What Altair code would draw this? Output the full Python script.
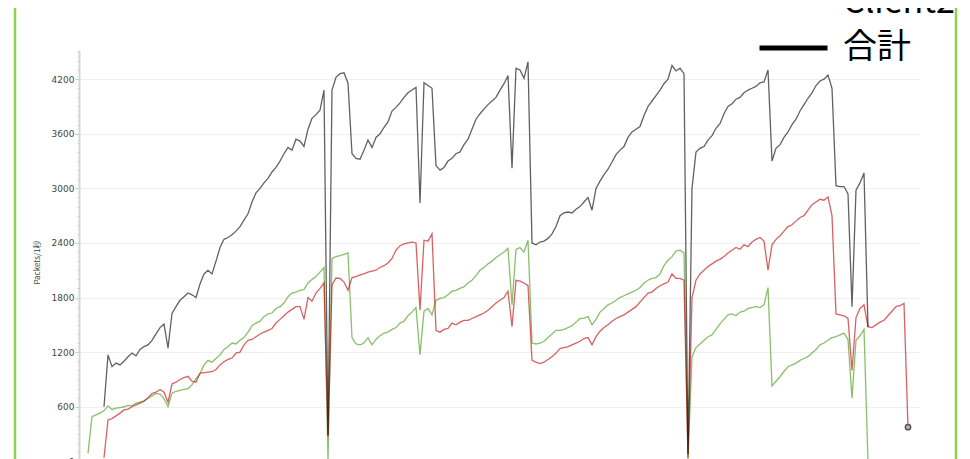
import altair as alt
import pandas as pd

# sample index (one sample per 1/26 of a grid interval)
client1 = [
    90, 490, 510, 530, 555, 610, 570, 585, 590, 600,
    615, 610, 640, 650, 665, 690, 720, 745, 740, 690,
    600, 750, 770, 780, 790, 800, 840, 910, 960, 1060,
    1110, 1090, 1130, 1170, 1230, 1260, 1300, 1290, 1330, 1360,
    1420, 1490, 1520, 1540, 1590, 1620, 1630, 1680, 1700, 1740,
    1810, 1850, 1860, 1880, 1890, 1960, 2000, 2030, 2080, 2130,
    20, 2230, 2250, 2260, 2275, 2290, 1360, 1290, 1280, 1300,
    1360, 1280, 1340, 1380, 1410, 1420, 1450, 1470, 1520, 1540,
    1600, 1640, 1690, 1170, 1650, 1680, 1610, 1770, 1790, 1800,
    1830, 1870, 1880, 1900, 1920, 1960, 1990, 2040, 2100, 2130,
    2170, 2200, 2240, 2270, 2300, 2340, 1720, 2330, 2350, 2300,
    2430, 1300, 1290, 1300, 1320, 1360, 1400, 1440, 1440, 1450,
    1470, 1490, 1530, 1570, 1575, 1590, 1500, 1560, 1640, 1680,
    1720, 1740, 1770, 1800, 1820, 1840, 1860, 1880, 1910, 1960,
    1990, 2010, 2020, 2060, 2150, 2210, 2250, 2310, 2320, 2290,
    30, 1150, 1250, 1290, 1330, 1370, 1390, 1450, 1510, 1560,
    1610, 1620, 1600, 1640, 1650, 1680, 1690, 1700, 1690, 1720,
    1910, 830, 880, 930, 990, 1040, 1060, 1080, 1110, 1130,
    1150, 1190, 1230, 1280, 1300, 1330, 1360, 1370, 1390, 1410,
    1340, 695, 1330, 1380, 1450, 0,
    None, None, None, None, None, None, None, None, None, None,
]

client2 = [
    None, None, None, None, 40, 455, 470, 500, 530, 565,
    575, 600, 620, 640, 660, 700, 745, 760, 790, 760,
    650, 850, 870, 900, 920, 935, 880, 870, 970, 975,
    980, 985, 1010, 1060, 1095, 1120, 1135, 1190, 1200, 1280,
    1330, 1340, 1370, 1400, 1420, 1440, 1460, 1520, 1560, 1600,
    1640, 1670, 1700, 1700, 1560, 1800, 1760, 1850, 1900, 1960,
    270, 1940, 2015, 2010, 1970, 1880, 2020, 2030, 2050, 2060,
    2080, 2090, 2100, 2130, 2150, 2180, 2230, 2320, 2370, 2390,
    2400, 2410, 2400, 1660, 2430, 2420, 2500, 1440, 1420, 1450,
    1460, 1520, 1500, 1530, 1550, 1550, 1570, 1590, 1610, 1630,
    1660, 1700, 1740, 1770, 1800, 1870, 1480, 1990, 1980, 1960,
    1930, 1110, 1090, 1075, 1090, 1120, 1150, 1190, 1240, 1250,
    1260, 1280, 1300, 1320, 1350, 1360, 1280, 1370, 1430, 1470,
    1500, 1540, 1570, 1590, 1610, 1640, 1670, 1700, 1750, 1800,
    1850, 1860, 1900, 1930, 1950, 1970, 2060, 2010, 2010, 1990,
    40, 1800, 1990, 2060, 2100, 2140, 2170, 2200, 2220, 2250,
    2290, 2320, 2350, 2330, 2380, 2360, 2410, 2440, 2460, 2420,
    2100, 2380, 2440, 2480, 2530, 2580, 2600, 2640, 2680, 2700,
    2760, 2820, 2850, 2880, 2870, 2905, 2700, 1620, 1610, 1600,
    1570, 1000, 1580, 1680, 1720, 1480, 1470, 1500, 1530, 1550,
    1600, 1650, 1700, 1710, 1735, 375,
]

total = [
    None, None, None, None, 600, 1170, 1040, 1080, 1060, 1100,
    1150, 1190, 1160, 1230, 1260, 1280, 1330, 1400, 1470, 1510,
    1245, 1625, 1700, 1770, 1810, 1850, 1830, 1800, 1950, 2060,
    2100, 2060, 2200, 2350, 2440, 2460, 2490, 2530, 2580, 2650,
    2720, 2850, 2950, 3000, 3060, 3110, 3180, 3230, 3300, 3380,
    3450, 3420, 3540, 3520, 3460, 3650, 3770, 3810, 3860, 4080,
    290, 4080, 4220, 4260, 4270, 4155, 3380, 3330, 3320, 3420,
    3530, 3450, 3560, 3600, 3670, 3730, 3850, 3890, 3940, 4000,
    4050, 4080, 4110, 2840, 4160, 4130, 4100, 3250, 3200, 3230,
    3300, 3330, 3380, 3400, 3480, 3540, 3650, 3760, 3820, 3870,
    3920, 3960, 4000, 4080, 4150, 4240, 3220, 4320, 4300, 4210,
    4390, 2400, 2380, 2410, 2420, 2450, 2500, 2580, 2700, 2730,
    2740, 2730, 2770, 2800, 2850, 2900, 2760, 3000, 3080, 3150,
    3210, 3290, 3370, 3420, 3460, 3560, 3620, 3650, 3680, 3800,
    3900, 3960, 4020, 4080, 4150, 4200, 4350, 4290, 4320, 4260,
    80, 3000, 3400, 3440, 3460, 3530, 3580, 3660, 3710, 3820,
    3900, 3930, 3980, 4000, 4050, 4080, 4100, 4120, 4160, 4170,
    4300, 3300, 3440, 3480, 3560, 3620, 3700, 3760, 3850, 3920,
    3990, 4050, 4130, 4180, 4200, 4245, 4100, 3030, 3020, 3020,
    2940, 1700, 2980, 3060, 3170, 1475,
    None, None, None, None, None, None, None, None, None, None,
]

series_names = ["Client1", "Client2", "合計"]
series_colors = ["#3f9a10", "#c00000", "#000000"]
y_major = list(range(0, 4201, 600))
y_minor = list(range(0, 4501, 100))
x_grid = list(range(0, 209, 26))

rows = []
for name, vals in zip(series_names, [client1, client2, total]):
    for i, v in enumerate(vals):
        if v is not None:
            rows.append({"sample": i, "series": name, "packets": v})
df = pd.DataFrame(rows)

last_red = df[df["series"] == "Client2"].tail(1)

x_scale = alt.Scale(domain=[-18.25, 217], nice=False, zero=False)
y_scale = alt.Scale(domain=[-150, 4982], nice=False, zero=False)

x_enc = alt.X(
    "sample:Q",
    scale=x_scale,
    axis=alt.Axis(
        values=x_grid, grid=True, labels=False, ticks=False, domain=False,
        title=None, gridColor="#ececec", gridWidth=1, gridDash=[425, 3000],
    ),
)
y_enc = alt.Y(
    "packets:Q",
    scale=y_scale,
    axis=alt.Axis(
        orient="left",
        values=y_major,
        offset=-64,
        labelOverlap=False,
        format="d",
        labelFont="DejaVu Sans", labelFontSize=9, labelColor="#444", labelPadding=1,
        tickSize=4, tickColor="#c8c8c8", tickWidth=1,
        domain=True, domainColor="#d6d6d6", domainWidth=2, domainDash=[425, 3000],
        grid=True, gridColor="#efefef", gridWidth=1, gridDash=[0, 64, 840, 3000],
        title="Packets/1秒", titleFont="Noto Sans CJK JP", titleFontSize=8,
        titleFontWeight="normal", titleColor="#444", titleX=-42, titleY=254,
        titleAlign="center", titleBaseline="middle", titleAngle=-90,
    ),
)

lines = alt.Chart(df).mark_line(strokeWidth=1.3, strokeOpacity=0.62).encode(
    x=x_enc,
    y=y_enc,
    color=alt.Color(
        "series:N",
        scale=alt.Scale(domain=series_names, range=series_colors),
        legend=alt.Legend(
            orient="none", legendX=742, legendY=-65, title=None,
            symbolType="stroke", symbolSize=4624, symbolStrokeWidth=5,
            symbolOpacity=1, labelFontSize=34, labelFont="Noto Sans CJK JP",
            labelColor="#000", labelOffset=13, clipHeight=30, rowPadding=11,
            padding=0, labelLimit=400,
        ),
    ),
    order="sample:Q",
)

endpoint = alt.Chart(last_red).mark_point(
    shape="circle", size=28, filled=True, fill="#b5b5b5", stroke="#555", strokeWidth=1.5, opacity=1
).encode(
    x=alt.X("sample:Q", scale=x_scale, axis=None),
    y=alt.Y(
        "packets:Q",
        scale=y_scale,
        axis=alt.Axis(
            orient="left", values=y_minor, offset=-64, labels=False, grid=False,
            domain=False, tickSize=2, tickColor="#cfcfcf", tickWidth=1, title=None,
        ),
    ),
)

chart = alt.layer(lines, endpoint).resolve_scale(y="shared").resolve_axis(
    y="independent"
).properties(
    width=941, height=467,
    padding={"left": 7, "top": 0, "right": 5, "bottom": 0},
    autosize=alt.AutoSizeParams(type="none"),
    background="white",
).configure_view(
    stroke="#92d050", strokeWidth=2.5, strokeDash=[0, 941, 467, 941, 467]
)

chart.save("out.html", embed_options={"renderer": "svg", "actions": False})
